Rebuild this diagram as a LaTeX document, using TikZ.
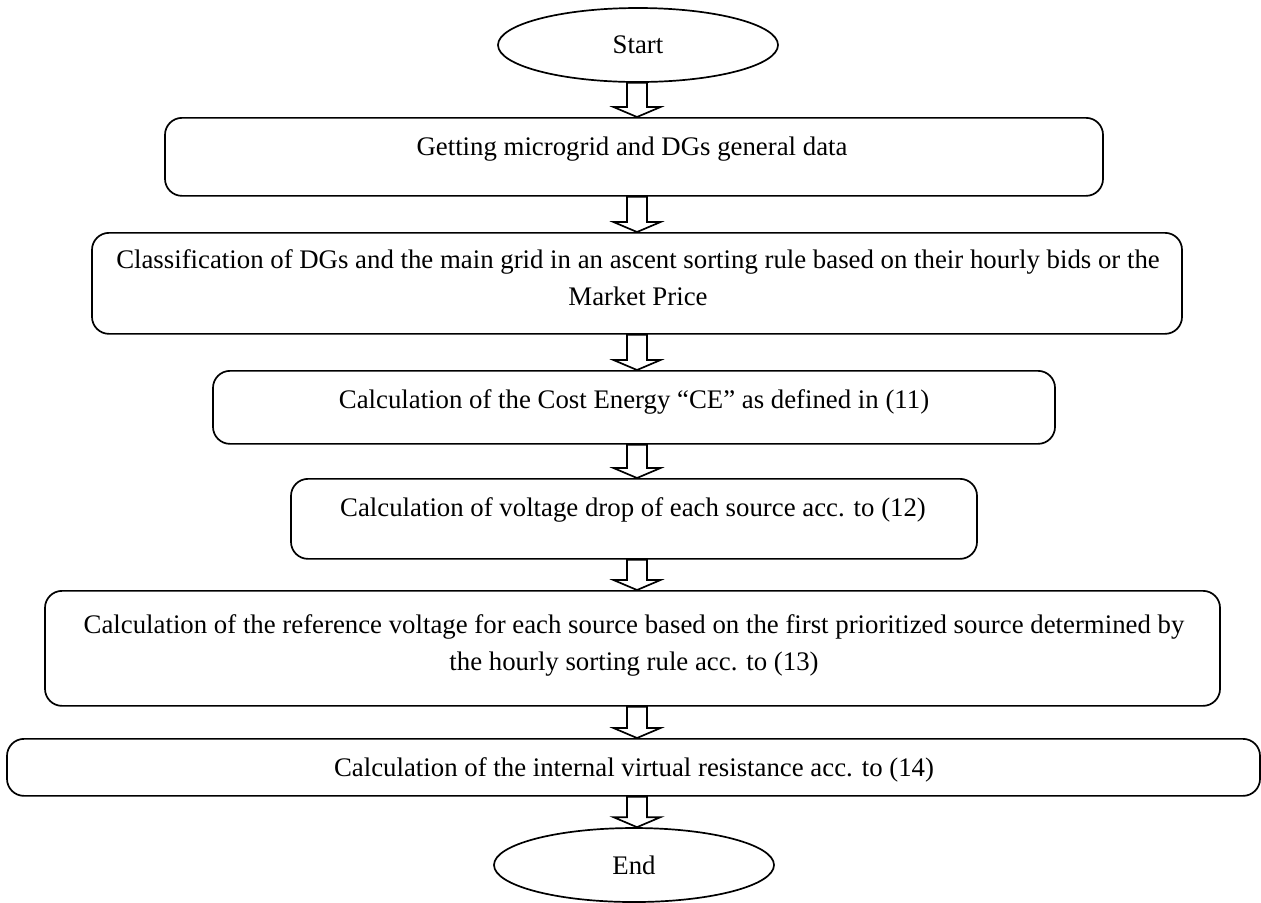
\documentclass[tikz,border=0pt]{standalone}
\usepackage{fontspec}
\setmainfont{Liberation Serif}
\usetikzlibrary{shapes.geometric,calc}

\tikzset{
  flowbox/.style={draw, line width=0.85pt, rounded corners=8.5pt, inner sep=0pt, anchor=north},
  steptext/.style={anchor=base, align=center, inner sep=0pt},
  terminal/.style={draw, line width=0.85pt, ellipse, inner sep=0pt,
    minimum width=140pt, minimum height=37pt},
  hollow/.style={draw, fill=white, line width=0.85pt, line join=miter},
}

% hollow block arrow from one step to the next
\newcommand\flowarrow[2]{%
  \path[hollow] let \p1=(#1.south), \p2=(#2.north), \p3=(axis) in
    (\x3-5pt,\y1) -- (\x3-5pt,\y2+5pt) -- (\x3-11.75pt,\y2+5pt) -- (\x3,\y2)
    -- (\x3+11.75pt,\y2+5pt) -- (\x3+5pt,\y2+5pt) -- (\x3+5pt,\y1) -- cycle;}

\begin{document}
\begin{tikzpicture}[x=0.5pt, y=-0.5pt, font=\fontsize{13.4}{18.5}\selectfont]
  \useasboundingbox (0,0) rectangle (1261,902);
  \coordinate (axis) at (637,0);

  \node[terminal] (start) at (638,45) {Start};

  \node[flowbox, minimum width=469pt, minimum height=39pt] (getdata) at (634,117) {};
  \node[steptext] (getdata text) at (632,155) {Getting microgrid and DGs general data};

  \node[flowbox, minimum width=545pt, minimum height=50.5pt] (classify) at (637,232) {};
  \node[steptext] (classify text) at (638,305)
    {Classification of DGs and the main grid in an ascent sorting rule based on their hourly bids or the\\Market Price};

  \node[flowbox, minimum width=421pt, minimum height=36.5pt] (costenergy) at (634,370) {};
  \node[steptext] (costenergy text) at (634,408) {Calculation of the Cost Energy “CE” as defined in (11)};

  \node[flowbox, minimum width=343pt, minimum height=40pt] (vdrop) at (634,478) {};
  \node[steptext] (vdrop text) at (633,516) {Calculation of voltage drop of each source acc. to (12)};

  \node[flowbox, minimum width=587.5pt, minimum height=57.5pt] (refvolt) at (632.5,590) {};
  \node[steptext] (refvolt text) at (634,670)
    {Calculation of the reference voltage for each source based on the first prioritized source determined by\\the hourly sorting rule acc. to (13)};

  \node[flowbox, minimum width=626.5pt, minimum height=28.5pt] (virtres) at (633.5,738) {};
  \node[steptext] (virtres text) at (634,776) {Calculation of the internal virtual resistance acc. to (14)};

  \node[terminal] (end) at (634,865) {End};

  \flowarrow{start}{getdata}
  \flowarrow{getdata}{classify}
  \flowarrow{classify}{costenergy}
  \flowarrow{costenergy}{vdrop}
  \flowarrow{vdrop}{refvolt}
  \flowarrow{refvolt}{virtres}
  \flowarrow{virtres}{end}
\end{tikzpicture}
\end{document}
